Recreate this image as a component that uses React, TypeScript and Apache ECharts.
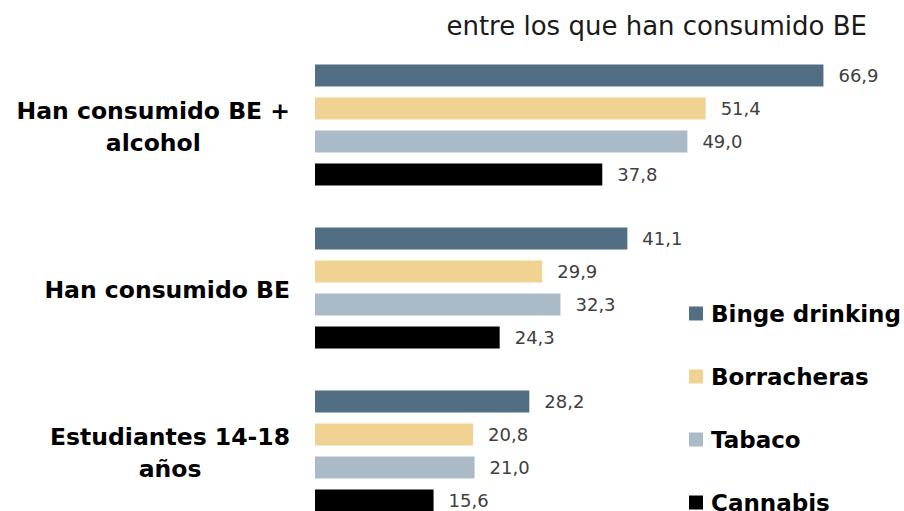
import React, { useEffect, useRef } from "react";
import * as echarts from "echarts";

const categories = ["Han consumido BE +\nalcohol", "Han consumido BE", "Estudiantes 14-18\naños"];
const seriesNames = ["Binge drinking", "Borracheras", "Tabaco", "Cannabis"];
const bingeDrinking = [66.9, 41.1, 28.2];
const borracheras = [51.4, 29.9, 20.8];
const tabaco = [49.0, 32.3, 21.0];
const cannabis = [37.8, 24.3, 15.6];
const colors = ["#526E82", "#F0D293", "#AABBC7", "#000000"];
const titleText = "entre los que han consumido BE";

const FONT = "DejaVu Sans";

export default function App() {
  const ref = useRef<HTMLDivElement>(null);
  useEffect(() => {
    if (!ref.current) return;
    const chart = echarts.init(ref.current, null, { renderer: "svg" });
    const values = [bingeDrinking, borracheras, tabaco, cannabis];
    chart.setOption({
      animation: false,
      backgroundColor: "#ffffff",
      title: {
        text: titleText,
        right: 32,
        top: 8,
        textStyle: { fontFamily: FONT, fontSize: 26, fontWeight: "normal", color: "#1a1a1a" },
      },
      legend: {
        orient: "vertical",
        left: 684,
        top: 297,
        itemWidth: 14,
        itemHeight: 14,
        itemGap: 40,
        icon: "rect",
        data: seriesNames,
        textStyle: { fontFamily: FONT, fontSize: 23, fontWeight: "bold", color: "#000", padding: [0, 0, 0, 3] },
      },
      grid: { left: 315, top: 43.5, width: 532, height: 489, containLabel: false },
      xAxis: {
        type: "value",
        min: 0,
        max: 70,
        show: false,
      },
      yAxis: {
        type: "category",
        data: categories,
        inverse: true,
        axisLine: { show: false },
        axisTick: { show: false },
        axisLabel: {
          margin: 25,
          align: "right",
          formatter: (v: string) => v.split("\n").map((l) => `{c|${l}}`).join("\n"),
          rich: {
            c: {
              align: "center",
              fontFamily: FONT,
              fontSize: 23.5,
              fontWeight: "bold",
              color: "#000",
              lineHeight: 32,
              padding: [3, 0, 0, 0],
            },
          },
        },
      },
      series: seriesNames.map((name, i) => ({
        name,
        type: "bar",
        data: values[i],
        barWidth: 22,
        barGap: "50%",
        itemStyle: { color: colors[i] },
        label: {
          show: true,
          position: "right",
          distance: 15,
          fontFamily: FONT,
          fontSize: 18,
          color: "#404040",
          formatter: (p: any) => p.value.toFixed(1).replace(".", ","),
        },
      })),
    });
    return () => chart.dispose();
  }, []);
  return (
    <div style={{ position: "fixed", left: 0, top: 0, width: 904, height: 511, overflow: "hidden", background: "#fff" }}>
      <div ref={ref} style={{ width: 904, height: 545 }} />
    </div>
  );
}
